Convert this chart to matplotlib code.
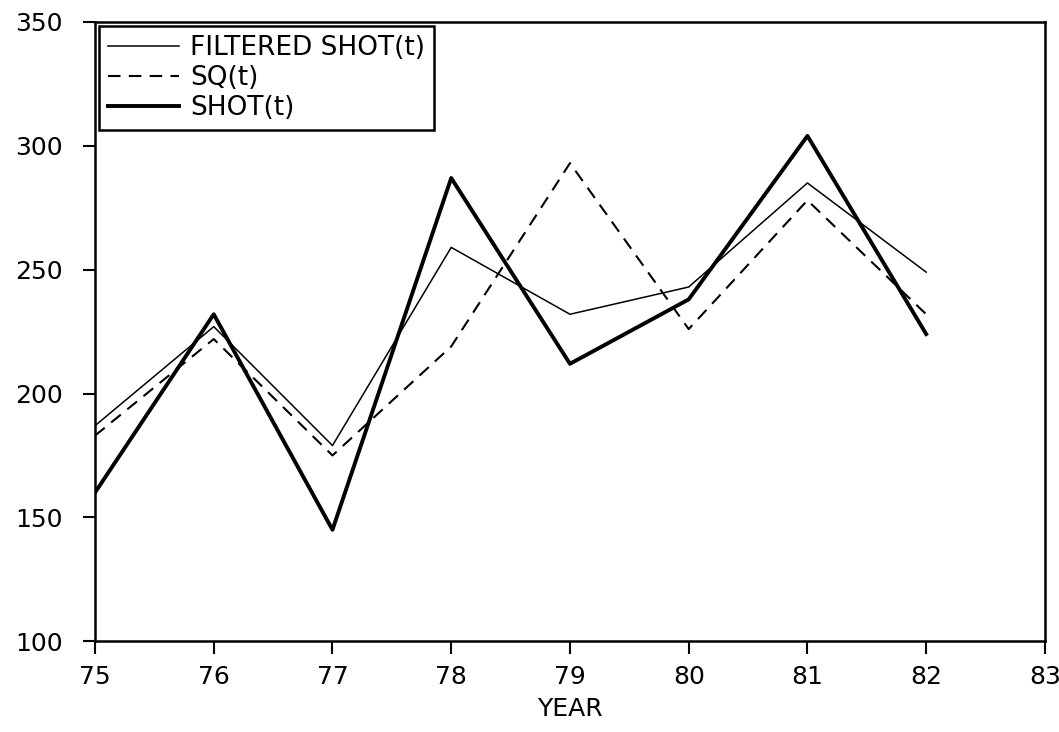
import numpy as np
import matplotlib.pyplot as plt

# yearly values
years = [75, 76, 77, 78, 79, 80, 81, 82]
filtered_shot = [187, 227, 179, 259, 232, 243, 285, 249]
sq = [183, 222, 175, 219, 293, 226, 278, 232]
shot = [160, 232, 145, 287, 212, 238, 304, 224]

x_ticks = [75, 76, 77, 78, 79, 80, 81, 82, 83]
y_ticks = [100, 150, 200, 250, 300, 350]

fig = plt.figure(figsize=(10.59, 7.32), dpi=100)
ax = fig.add_axes([0.0897, 0.124, 0.897, 0.846])

ax.plot(years, filtered_shot, color="black", lw=1.1, label="FILTERED SHOT(t)")
ax.plot(years, sq, color="black", lw=1.5, linestyle=(0, (6, 4)), label="SQ(t)")
ax.plot(years, shot, color="black", lw=2.8, label="SHOT(t)")

ax.set_xlim(75, 83)
ax.set_ylim(100, 350)
ax.set_xticks(x_ticks)
ax.set_yticks(y_ticks)
ax.tick_params(direction="out", length=9, width=1.5, labelsize=18)
ax.tick_params(axis="y", pad=14)
ax.tick_params(axis="x", pad=8)
for s in ax.spines.values():
    s.set_linewidth(1.8)

ax.set_xlabel("YEAR", fontsize=18, labelpad=6)

leg = ax.legend(loc="upper left", fontsize=19, frameon=True, fancybox=False,
                borderaxespad=0.15, handlelength=2.7, labelspacing=0.15,
                borderpad=0.35, handletextpad=0.4)
leg.get_frame().set_edgecolor("black")
leg.get_frame().set_linewidth(1.8)
leg.get_frame().set_alpha(1)

plt.savefig("out.png", dpi=100)
